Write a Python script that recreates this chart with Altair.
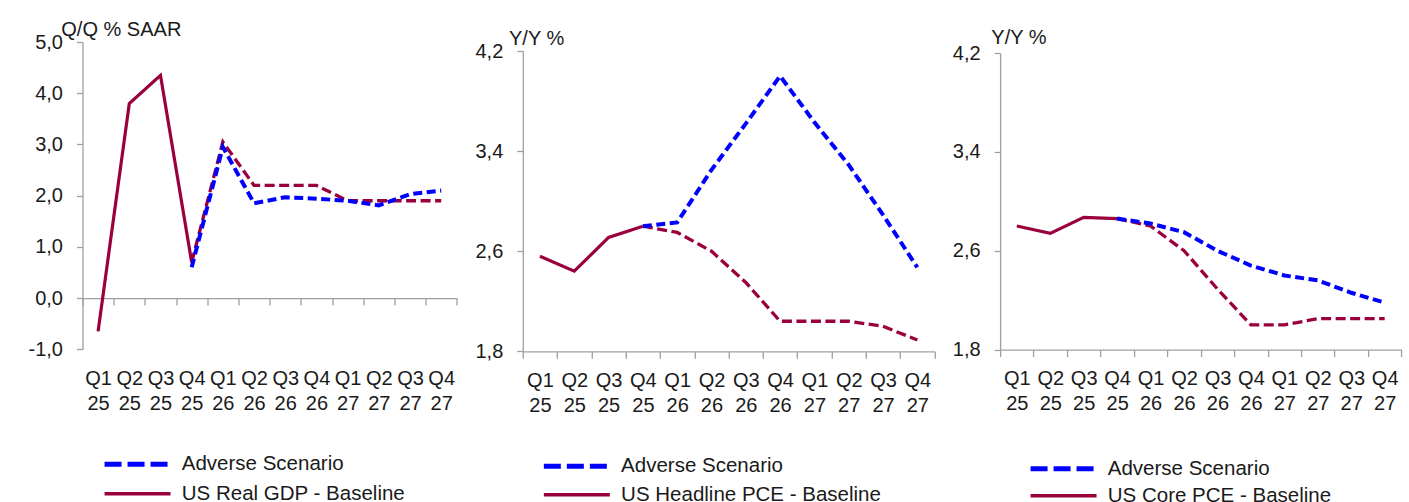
import altair as alt
import pandas as pd

# Quarter labels (first line quarter, second line year)
quarters = ["Q1 25", "Q2 25", "Q3 25", "Q4 25",
            "Q1 26", "Q2 26", "Q3 26", "Q4 26",
            "Q1 27", "Q2 27", "Q3 27", "Q4 27"]

# US Real GDP, Q/Q % SAAR
gdp_baseline = [-0.65, 3.8, 4.35, 0.7, 3.05, 2.2, 2.2, 2.2, 1.9, 1.9, 1.9, 1.9]
gdp_adverse = [None, None, None, 0.6, 2.95, 1.85, 1.97, 1.94, 1.9, 1.81, 2.03, 2.1]

# US Headline PCE, Y/Y %
pce_baseline = [2.56, 2.44, 2.71, 2.8, 2.75, 2.6, 2.35, 2.04, 2.04, 2.04, 2.0, 1.89]
pce_adverse = [None, None, None, 2.8, 2.83, 3.25, 3.62, 4.0, 3.63, 3.29, 2.89, 2.47]

# US Core PCE, Y/Y %
core_baseline = [2.8, 2.74, 2.87, 2.86, 2.8, 2.6, 2.29, 2.0, 2.0, 2.05, 2.05, 2.05]
core_adverse = [None, None, None, 2.86, 2.82, 2.75, 2.6, 2.48, 2.4, 2.36, 2.26, 2.18]

gdp_ticks = [-1, 0, 1, 2, 3, 4, 5]
pce_ticks = [1.8, 2.6, 3.4, 4.2]

ADVERSE = "Adverse Scenario"
MAROON = "#99003D"
BLUE = "#0000FF"
AXIS_GREY = "#A0A0A0"
TEXT = "#1A1A1A"
FONT = "Liberation Sans"
LAST_HIST = 3  # index of the last actual quarter

# decimal comma and a plain hyphen for negatives
Y_LABELS = ("replace(replace(format(datum.value, '.1f'), '.', ','), "
            "'\u2212', '-')")


def panel(base, adverse, base_name, title, ydomain, yticks, width, height,
          top, title_x, title_y, legend_x, legend_y, row_pad, zero_axis=False):
    hist = pd.DataFrame({"q": quarters[:LAST_HIST + 1],
                         "value": base[:LAST_HIST + 1], "series": base_name})
    fcst = pd.DataFrame({"q": quarters[LAST_HIST:],
                         "value": base[LAST_HIST:], "series": base_name})
    adv = pd.DataFrame({"q": [q for q, v in zip(quarters, adverse) if v is not None],
                        "value": [v for v in adverse if v is not None],
                        "series": ADVERSE})

    plot_h = height - top
    if zero_axis:
        # x axis drawn along the zero line, labels kept below the plot
        shift = plot_h * (ydomain[1] - 0) / (ydomain[1] - ydomain[0])
        offset = -(plot_h - shift)
        label_pad = 12 - offset
    else:
        offset = 0
        label_pad = 12

    x_axis = alt.Axis(title=None, labelExpr="split(datum.label, ' ')", labelAngle=0,
                      tickBand="extent", tickSize=7, offset=offset,
                      labelPadding=label_pad, labelLineHeight=25,
                      labelOverlap=False, grid=False)
    x = alt.X("q:N", sort=quarters, bandPosition=0.5,
              scale=alt.Scale(type="band", domain=quarters,
                              paddingInner=0, paddingOuter=0),
              axis=x_axis)

    y_axis = alt.Axis(values=yticks, grid=False, tickSize=6, labelPadding=14,
                      labelExpr=Y_LABELS,
                      title=title, titleAngle=0, titleAlign="left",
                      titleBaseline="alphabetic", titleX=title_x, titleY=title_y)
    y = alt.Y("value:Q", axis=y_axis,
              scale=alt.Scale(domain=ydomain, range=[height, top],
                              nice=False, zero=False))

    legend = alt.Legend(
        title=None, orient="none", legendX=legend_x, legendY=legend_y,
        direction="vertical", symbolType="stroke", symbolSize=4356,
        symbolDash=alt.ExprRef(expr=f"datum.value == '{ADVERSE}' ? [17, 6] : [1, 0]"),
        symbolStrokeWidth=alt.ExprRef(expr=f"datum.value == '{ADVERSE}' ? 5 : 3.5"),
        labelOffset=34, rowPadding=row_pad, labelLimit=0)
    color = alt.Color("series:N", legend=legend,
                      scale=alt.Scale(domain=[ADVERSE, base_name],
                                      range=[BLUE, MAROON]))

    history = alt.Chart(hist).mark_line(strokeWidth=3.2).encode(x=x, y=y, color=color)
    forecast = alt.Chart(fcst).mark_line(strokeWidth=3.3, strokeDash=[10, 4.5],
                                         color=MAROON).encode(x=x, y=y)
    scenario = alt.Chart(adv).mark_line(strokeWidth=4, strokeDash=[9, 4.5]).encode(
        x=x, y=y, color=color)
    return alt.layer(history, forecast, scenario).properties(width=width, height=height)


gdp = panel(gdp_baseline, gdp_adverse, "US Real GDP - Baseline", "Q/Q % SAAR",
            [-1, 5], gdp_ticks, 374.3, 307.3, 0, -21.7, -6.7, 44.8, 412, 8.5,
            zero_axis=True)
pce = panel(pce_baseline, pce_adverse, "US Headline PCE - Baseline", "Y/Y %",
            [1.8, 4.2], pce_ticks, 411.7, 309.3, 9, -14.3, 2.6, 43.8, 414, 7.5)
core = panel(core_baseline, core_adverse, "US Core PCE - Baseline", "Y/Y %",
             [1.8, 4.2], pce_ticks, 401.3, 307.6, 11, -9.3, 1.6, 53.2, 416.5, 6)

chart = (
    alt.hconcat(gdp, pce, core, spacing=65.3, bounds="flush")
    .resolve_scale(color="independent", x="independent", y="independent")
    .resolve_legend(color="independent")
    .properties(padding={"left": 27.5, "top": 19, "right": 0, "bottom": 0},
                background="white")
    .configure_view(strokeWidth=0)
    .configure_axis(labelFont=FONT, labelFontSize=20, labelColor=TEXT,
                    titleFont=FONT, titleFontSize=20, titleFontWeight="normal",
                    titleColor=TEXT, domainColor=AXIS_GREY, tickColor=AXIS_GREY,
                    domainWidth=1.3, tickWidth=1.3)
    .configure_legend(labelFont=FONT, labelFontSize=20.5, labelColor=TEXT)
)

chart.save("out.html", embed_options={"renderer": "svg", "actions": False})
